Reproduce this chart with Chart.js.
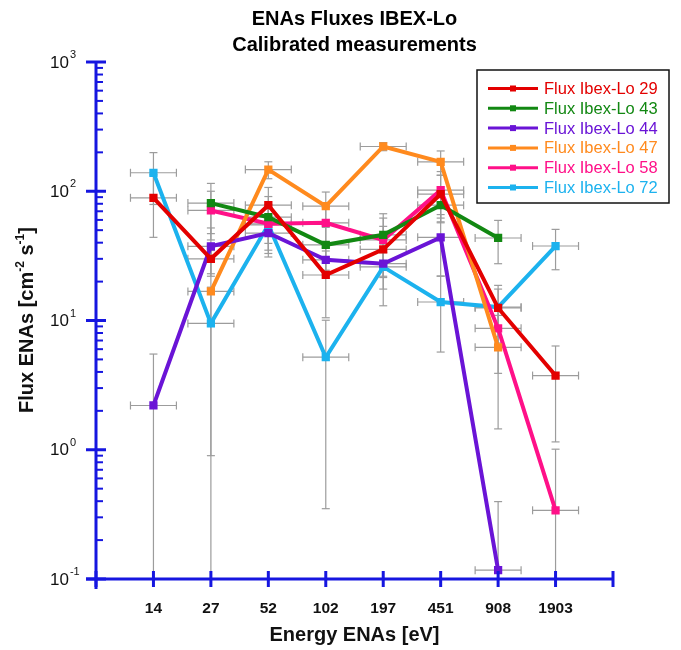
<!DOCTYPE html>
<html><head><meta charset="utf-8">
<script src="https://cdn.jsdelivr.net/npm/chart.js@4/dist/chart.umd.min.js"></script>
<style>html,body{margin:0;padding:0;background:#fff}#wrap{width:681px;height:650px}</style>
</head><body><div id="wrap"><canvas id="c" width="681" height="650"></canvas></div>
<script>
// ---- data ----
const categories = ['14', '27', '52', '102', '197', '451', '908', '1903'];
const seriesNames = ['Flux Ibex-Lo 29', 'Flux Ibex-Lo 43', 'Flux Ibex-Lo 44', 'Flux Ibex-Lo 47', 'Flux Ibex-Lo 58', 'Flux Ibex-Lo 72'];
const flux29 = [89, 30, 78, 22.5, 35.5, 95, 12.5, 3.75];
const flux43 = [null, 81, 63, 38.5, 46, 78, 43.5, null];
const flux44 = [2.2, 37.5, 47.5, 29.5, 27.5, 44, 0.117, null];
const flux47 = [null, 16.8, 147, 76.6, 222, 169, 6.2, null];
const flux58 = [null, 71, 56, 57, 42, 102, 8.7, 0.34];
const flux72 = [139, 9.5, 55, 5.2, 26, 13.9, 12.7, 37.7];
// symmetric flux uncertainties
const err29 = [45, 8, 29, 12, 18, 38, 5, 2.6];
const err43 = [null, 34, 28, 14, 21, 20, 16, null];
const err44 = [3.3, 14.5, 8, 7, 6, 22, 0.28, null];
const err47 = [null, 18, 22, 22, 16, 36, 4.75, null];
const err58 = [null, 29, 23, 18, 20, 40, 4.8, 0.67];
const err72 = [60, 8.6, 24, 4.85, 13, 8.2, 6, 13];
const yTickExponents = [-1, 0, 1, 2, 3];

const colors = ['#e30000', '#128812', '#6a14d6', '#ff8a1e', '#ff1088', '#1cb2ee'];
const AXIS_BLUE = '#1616e0';
const FONT = "'Liberation Sans', Arial, Helvetica, sans-serif";
const X_HALF = 0.4; // half width of energy bin, in category units

function pts(vals, errs) {
  const out = [];
  vals.forEach((v, i) => { if (v != null) out.push({x: i + 1, y: v, e: errs[i]}); });
  return out;
}
const allVals = [flux29, flux43, flux44, flux47, flux58, flux72];
const allErrs = [err29, err43, err44, err47, err58, err72];

const datasets = allVals.map((vals, k) => ({
  label: seriesNames[k],
  data: pts(vals, allErrs[k]),
  borderColor: colors[k],
  backgroundColor: colors[k],
  pointBackgroundColor: colors[k],
  pointBorderColor: colors[k],
  borderWidth: 4,
  pointStyle: 'rect',
  pointRadius: 3,
  tension: 0
}));

const errorBars = {
  id: 'errorBars',
  beforeDatasetsDraw(chart) {
    const {ctx, chartArea: a, scales: {x, y}} = chart;
    ctx.save();
    ctx.beginPath(); ctx.rect(a.left, a.top - 20, a.right - a.left, a.bottom - a.top + 20); ctx.clip();
    ctx.strokeStyle = '#9c9c9c'; ctx.lineWidth = 1.2;
    const seg = (x1, y1, x2, y2) => { ctx.beginPath(); ctx.moveTo(x1, y1); ctx.lineTo(x2, y2); ctx.stroke(); };
    chart.data.datasets.forEach(ds => {
      ds.data.forEach(p => {
        const px = x.getPixelForValue(p.x), py = y.getPixelForValue(p.y);
        const hi = y.getPixelForValue(p.y + p.e);
        const lowV = p.y - p.e;
        const lo = lowV > y.min ? y.getPixelForValue(lowV) : a.bottom;
        seg(px, hi, px, lo);
        seg(px - 4, hi, px + 4, hi);
        if (lowV > y.min) seg(px - 4, lo, px + 4, lo);
        const xl = x.getPixelForValue(p.x - X_HALF), xr = x.getPixelForValue(p.x + X_HALF);
        seg(xl, py, xr, py);
        seg(xl, py - 4, xl, py + 4);
        seg(xr, py - 4, xr, py + 4);
      });
    });
    ctx.restore();
  }
};

const axesAndLegend = {
  id: 'axesAndLegend',
  afterDraw(chart) {
    const {ctx, chartArea: a, scales: {x, y}} = chart;
    ctx.save();
    ctx.strokeStyle = AXIS_BLUE; ctx.lineCap = 'butt';
    const seg = (x1, y1, x2, y2) => { ctx.beginPath(); ctx.moveTo(x1, y1); ctx.lineTo(x2, y2); ctx.stroke(); };
    // axis lines
    ctx.lineWidth = 3;
    seg(a.left, a.top, a.left, a.bottom + 10);
    seg(a.left - 10, a.bottom, a.right, a.bottom);
    // y ticks
    yTickExponents.forEach(n => {
      const py = y.getPixelForValue(Math.pow(10, n));
      ctx.lineWidth = 3; seg(a.left - 10, py, a.left + 10, py);
      if (n < 3) {
        ctx.lineWidth = 2;
        for (let k = 2; k <= 9; k++) {
          const my = y.getPixelForValue(k * Math.pow(10, n));
          seg(a.left, my, a.left + 7, my);
        }
      }
    });
    // x ticks
    ctx.lineWidth = 3;
    for (let i = 0; i <= categories.length + 1; i++) {
      const px = x.getPixelForValue(i);
      seg(px, a.bottom - 8, px, a.bottom + 8);
    }
    // y tick labels with superscripts
    ctx.fillStyle = '#111';
    yTickExponents.forEach(n => {
      const py = y.getPixelForValue(Math.pow(10, n));
      ctx.font = '17px ' + FONT; ctx.textBaseline = 'middle'; ctx.textAlign = 'left';
      ctx.fillText('10', 50, py + 1);
      const w = ctx.measureText('10').width;
      ctx.font = '11px ' + FONT;
      ctx.fillText(String(n), 50 + w + 1, py - 7);
    });
    // y title with superscripts (rotated)
    const parts = [['Flux ENAs [cm', false], ['-2', true], [' s', false], ['-1', true], [']', false]];
    ctx.save();
    ctx.translate(27, 320); ctx.rotate(-Math.PI / 2);
    let total = 0;
    parts.forEach(([t, sup]) => { ctx.font = (sup ? 'bold 12px ' : 'bold 20px ') + FONT; total += ctx.measureText(t).width; });
    let cx = -total / 2;
    ctx.textAlign = 'left'; ctx.textBaseline = 'middle';
    parts.forEach(([t, sup]) => {
      ctx.font = (sup ? 'bold 12px ' : 'bold 20px ') + FONT;
      ctx.fillText(t, cx, sup ? -6 : 0);
      cx += ctx.measureText(t).width;
    });
    ctx.restore();
    // legend box
    const bx = 477, by = 70, bw = 192, bh = 133;
    ctx.strokeStyle = '#111'; ctx.lineWidth = 1.5;
    ctx.fillStyle = '#fff';
    ctx.fillRect(bx, by, bw, bh);
    ctx.strokeRect(bx, by, bw, bh);
    chart.data.datasets.forEach((ds, k) => {
      const ry = 88.5 + k * 19.8;
      ctx.strokeStyle = ds.borderColor; ctx.lineWidth = 3;
      seg(488, ry, 538, ry);
      ctx.fillStyle = ds.borderColor;
      ctx.fillRect(510, ry - 3, 6, 6);
      ctx.font = '16.5px ' + FONT; ctx.textAlign = 'left'; ctx.textBaseline = 'middle';
      ctx.fillText(ds.label, 544, ry + 1);
    });
    ctx.restore();
  }
};

new Chart(document.getElementById('c'), {
  type: 'line',
  data: {datasets},
  plugins: [errorBars, axesAndLegend],
  options: {
    responsive: false,
    animation: false,
    devicePixelRatio: 1,
    layout: {padding: {left: 0, right: 68, top: 0, bottom: 0}},
    plugins: {
      legend: {display: false},
      tooltip: {enabled: false},
      title: {
        display: true,
        fullSize: false,
        text: ['ENAs Fluxes IBEX-Lo', 'Calibrated measurements'],
        color: '#000',
        font: {family: FONT, size: 20, weight: 'bold', lineHeight: 1.3},
        padding: {top: 6, bottom: 4}
      }
    },
    scales: {
      x: {
        type: 'linear', min: 0, max: categories.length + 1,
        grid: {display: false, drawTicks: false},
        border: {display: false},
        afterFit(s) { s.height = 71; },
        afterBuildTicks(s) { s.ticks = []; for (let i = 0; i <= categories.length + 1; i++) s.ticks.push({value: i}); },
        ticks: {
          autoSkip: false, maxRotation: 0, padding: 20,
          color: '#111', font: {family: FONT, size: 15.5, weight: 'bold'},
          callback: v => categories[v - 1] || ''
        },
        title: {display: true, text: 'Energy ENAs [eV]', color: '#111',
          font: {family: FONT, size: 20, weight: 'bold', lineHeight: 1.2}, padding: {top: 0, bottom: 3}}
      },
      y: {
        type: 'logarithmic', min: 0.1, max: 1000,
        grid: {display: false, drawTicks: false},
        border: {display: false},
        ticks: {display: false},
        afterFit(s) { s.width = 96; }
      }
    }
  }
});
</script>
</body></html>
